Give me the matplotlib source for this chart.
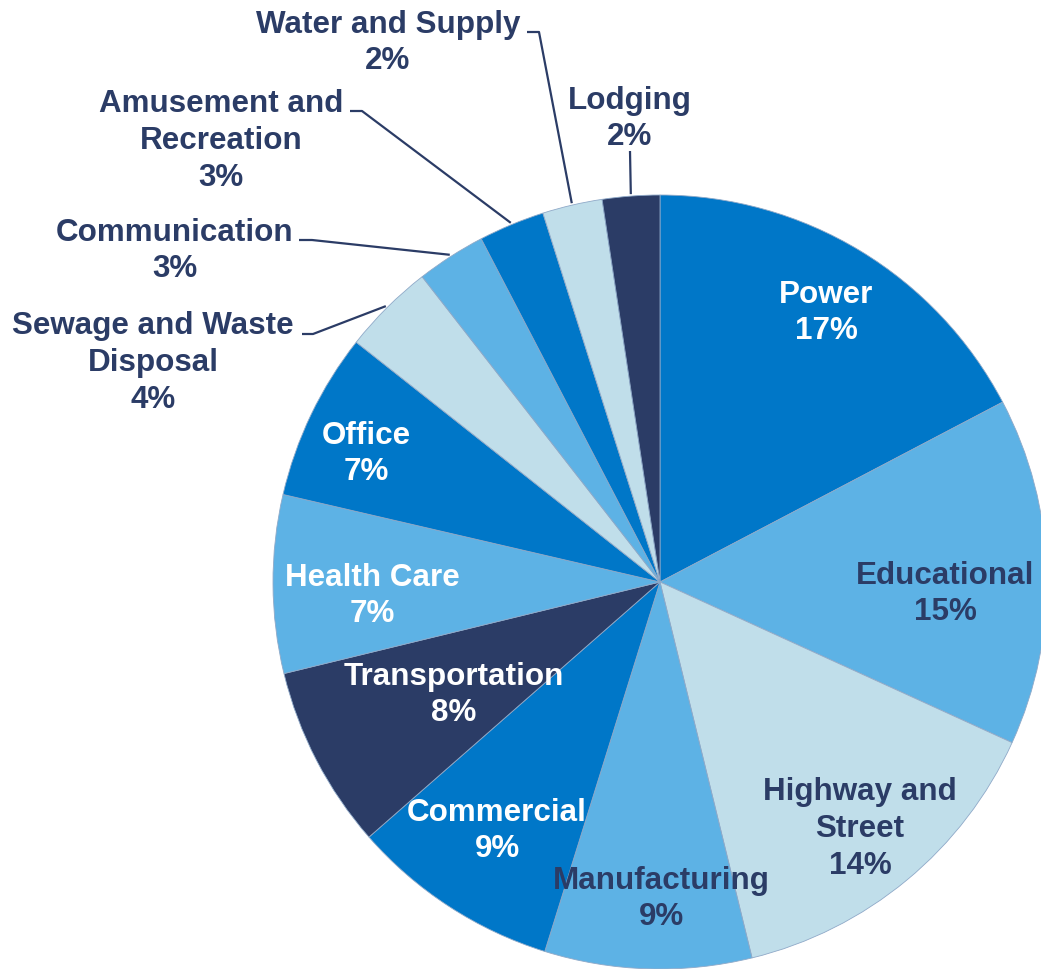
import numpy as np
import matplotlib
matplotlib.use('Agg')
from matplotlib import pyplot as plt

# slice shares (clockwise from 12 o'clock)
sectors = ['Power', 'Educational', 'Highway and\nStreet', 'Manufacturing', 'Commercial',
           'Transportation', 'Health Care', 'Office', 'Sewage and Waste\nDisposal',
           'Communication', 'Amusement and\nRecreation', 'Water and Supply', 'Lodging']
shares = [17.3, 14.5, 14.36, 8.63, 8.73, 7.65, 7.43, 7.0, 3.83, 2.89, 2.75, 2.5, 2.39]
pct_labels = ['17%', '15%', '14%', '9%', '9%', '8%', '7%', '7%', '4%', '3%', '3%', '2%', '2%']

BLUE = '#0077C8'
LIGHT = '#5DB2E5'
PALE = '#C0DEEA'
NAVY = '#2B3C66'
colors = [BLUE, LIGHT, PALE, LIGHT, BLUE, NAVY, LIGHT, BLUE, PALE, LIGHT, BLUE, PALE, NAVY]
text_colors = ['white', NAVY, NAVY, NAVY, 'white', 'white', 'white', 'white',
               NAVY, NAVY, NAVY, NAVY, NAVY]

W, H = 1041, 970
CX, CY, R = 660, 583, 387


def px(x, y):
    return (x - CX) / R, (CY - y) / R


# label centres in pixels
label_pos = [(826, 313), (945, 594), (860, 829), (661, 899), (497, 831),
             (454, 695), (372, 596), (366, 454), (153, 363), (175, 251),
             (221, 141), (388, 43), (630, 119)]

# leader elbows (pixels) for outside labels: index -> [text end, elbow]
leaders = {
    8: [(302, 335), (313, 335)],
    9: [(299, 241), (312, 241)],
    10: [(350, 112), (362, 112)],
    11: [(527, 33), (539, 33)],
    12: [(630, 152), (630, 152)],
}

fig = plt.figure(figsize=(W / 100, H / 100), dpi=100)
ax = fig.add_axes([0, 0, 1, 1])

wedges, _ = ax.pie(shares, colors=colors, startangle=90, counterclock=False, radius=1,
                   wedgeprops=dict(linewidth=0.6, edgecolor='#8FA9C8'))

ax.set_xlim(-CX / R, (W - CX) / R)
ax.set_ylim(-(H - CY) / R, CY / R)
ax.set_aspect('equal')
ax.axis('off')

for i, w in enumerate(wedges):
    x, y = px(*label_pos[i])
    ax.text(x, y, sectors[i] + '\n' + pct_labels[i], ha='center', va='center',
            fontsize=22.6, fontweight='bold', color=text_colors[i],
            family=['Liberation Sans', 'DejaVu Sans'], linespacing=1.3)
    if i in leaders:
        mid = np.deg2rad((w.theta1 + w.theta2) / 2)
        ex, ey = np.cos(mid) * 1.005, np.sin(mid) * 1.005
        p0 = px(*leaders[i][0])
        p1 = px(*leaders[i][1])
        ax.plot([p0[0], p1[0], ex], [p0[1], p1[1], ey], color=NAVY, lw=1.6,
                solid_capstyle='butt', zorder=3)

fig.savefig('out.png', dpi=100)
